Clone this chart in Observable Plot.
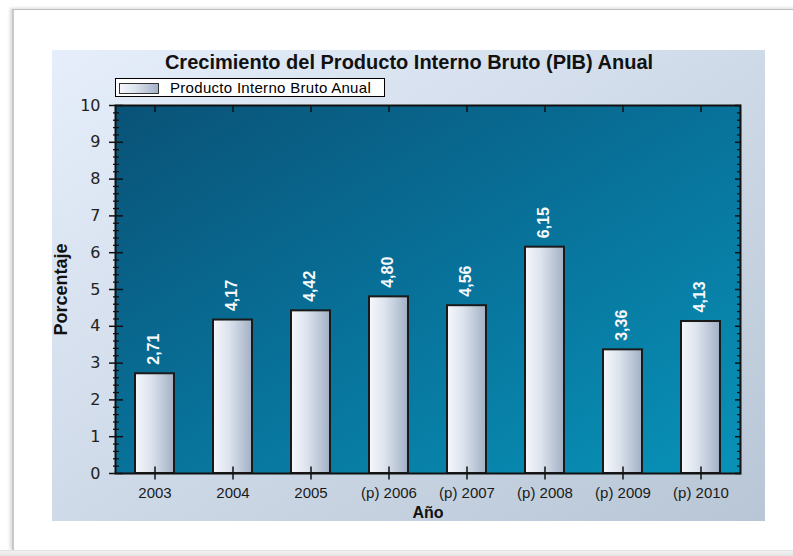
<!DOCTYPE html>
<html><head><meta charset="utf-8">
<script src="https://cdn.jsdelivr.net/npm/d3@7"></script>
<script src="https://cdn.jsdelivr.net/npm/@observablehq/plot@0.6"></script>
<style>
html,body{margin:0;padding:0;background:#fff;width:793px;height:556px;overflow:hidden;}
body{position:relative;font-family:"Liberation Sans",Arial,sans-serif;}
#frame{position:absolute;left:12px;top:9px;width:800px;height:541px;border-top:1px solid #bdbdbd;border-left:2px solid #c9c9c9;box-shadow:-2px -1px 3px rgba(0,0,0,0.15);}
#bottomstrip{position:absolute;left:0;top:550px;width:793px;height:6px;background:linear-gradient(#f1f1f1,#e3e3e3);border-top:1px solid #e2e2e2;}
#panel{position:absolute;left:52px;top:50px;width:713px;height:471px;overflow:hidden;background:linear-gradient(to bottom right,#e6eefb,#b8c6d5);}
#panel svg{position:absolute;left:0;top:0;}
#legend{position:absolute;left:63px;top:28px;width:268px;height:17px;border:1px solid #000;background:#fff;}
#swatch{position:absolute;left:3px;top:4px;width:38px;height:9px;border:1px solid #333;background:linear-gradient(to right,#f5f7fb,#dde4ee 40%,#a3b1c6);}
#legtext{position:absolute;left:54px;top:0;line-height:17px;font-size:15px;letter-spacing:0.3px;color:#000;white-space:nowrap;}
</style>
</head><body>
<div id="frame"></div>
<div id="bottomstrip"></div>
<div id="panel"></div>
<script>
const years = ["2003", "2004", "2005", "(p) 2006", "(p) 2007", "(p) 2008", "(p) 2009", "(p) 2010"];
const values = [2.71, 4.17, 4.42, 4.80, 4.56, 6.15, 3.36, 4.13];
const yTicks = [0, 1, 2, 3, 4, 5, 6, 7, 8, 9, 10];
const titleText = "Crecimiento del Producto Interno Bruto (PIB) Anual";
const yLabel = "Porcentaje";
const xLabel = "Año";
const seriesName = "Producto Interno Bruto Anual";

const data = years.map((year, i) => ({year, value: values[i]}));
const yMinor = d3.range(0, 10, 0.2).filter(v => Math.abs(v - Math.round(v)) > 1e-6);
const fmt = v => v.toFixed(2).replace(".", ",");
const ink = "#111";

const chart = Plot.plot({
  width: 713,
  height: 471,
  marginLeft: 63,
  marginRight: 25,
  marginTop: 55,
  marginBottom: 48,
  style: {background: "transparent", fontFamily: "Liberation Sans, Arial, sans-serif", color: ink},
  x: {type: "band", domain: years, paddingInner: 0.5, paddingOuter: 0.25, label: null},
  y: {domain: [0, 10], label: null},
  marks: [
    Plot.frame({fill: "url(#plotBg)", stroke: "none"}),
    Plot.barY(data, {x: "year", y: "value", fill: "url(#barGrad)", stroke: "#1a1a1a", strokeWidth: 2}),
    Plot.text(data, {x: "year", y: "value", text: d => fmt(d.value), rotate: -90, textAnchor: "start", lineAnchor: "middle", dy: -9, dx: -1, fill: "#f6f9fc", fontWeight: "bold", fontSize: 16}),
    Plot.frame({stroke: ink, strokeWidth: 2}),
    // left axis
    Plot.axisY({anchor: "left", ticks: yMinor, tickSize: 6, dx: 4, fill: "none", stroke: ink, strokeWidth: 1.3, label: null}),
    Plot.axisY({anchor: "left", ticks: yTicks, tickSize: 14, dx: 8, fill: "none", stroke: ink, strokeWidth: 1.5, label: null}),
    Plot.axisY({anchor: "left", ticks: yTicks, tickSize: 0, tickPadding: 15, fontSize: 16, fontFamily: "DejaVu Sans, sans-serif", fill: "#222", label: null}),
    // right axis
    Plot.axisY({anchor: "right", ticks: yMinor, tickSize: 4, dx: -4, fill: "none", stroke: ink, strokeWidth: 1.3, label: null}),
    Plot.axisY({anchor: "right", ticks: yTicks, tickSize: 6, dx: -6, fill: "none", stroke: ink, strokeWidth: 1.5, label: null}),
    // bottom axis
    Plot.axisX({anchor: "bottom", tickSize: 13, dy: -6.5, fill: "none", stroke: ink, strokeWidth: 1.5, label: null}),
    Plot.axisX({anchor: "bottom", tickSize: 0, tickPadding: 14, fontSize: 15, fill: "#1a1a1a", label: null}),
    // top axis
    Plot.axisX({anchor: "top", tickSize: 6, dy: 6, fill: "none", stroke: ink, strokeWidth: 1.5, label: null}),
    // titles
    Plot.text([titleText], {text: d => d, frameAnchor: "top", textAnchor: "middle", dx: -19, dy: -36.5, lineAnchor: "bottom", fontWeight: "bold", fontSize: 20, fill: "#111"}),
    Plot.text([yLabel], {text: d => d, frameAnchor: "left", textAnchor: "middle", rotate: -90, dx: -49, lineAnchor: "bottom", fontWeight: "bold", fontSize: 18, fill: "#111"}),
    Plot.text([xLabel], {text: d => d, frameAnchor: "bottom", textAnchor: "middle", dy: 44, lineAnchor: "bottom", fontWeight: "bold", fontSize: 16, fill: "#111"})
  ]
});

const svg = d3.select(chart);
const defs = svg.insert("defs", ":first-child");
const pg = defs.append("linearGradient").attr("id", "plotBg").attr("x1", 0).attr("y1", 0).attr("x2", 1).attr("y2", 1);
pg.append("stop").attr("offset", 0).attr("stop-color", "#0a5277");
pg.append("stop").attr("offset", 0.5).attr("stop-color", "#08729a");
pg.append("stop").attr("offset", 1).attr("stop-color", "#0892b8");
const bg = defs.append("linearGradient").attr("id", "barGrad").attr("x1", 0).attr("y1", 0).attr("x2", 1).attr("y2", 0);
bg.append("stop").attr("offset", 0).attr("stop-color", "#f6f8fc");
bg.append("stop").attr("offset", 0.4).attr("stop-color", "#dde4ee");
bg.append("stop").attr("offset", 1).attr("stop-color", "#a2b0c5");

const panel = document.getElementById("panel");
panel.appendChild(chart);
const legend = document.createElement("div");
legend.id = "legend";
legend.innerHTML = '<div id="swatch"></div><div id="legtext"></div>';
panel.appendChild(legend);
document.getElementById("legtext").textContent = seriesName;
</script>
</body></html>
